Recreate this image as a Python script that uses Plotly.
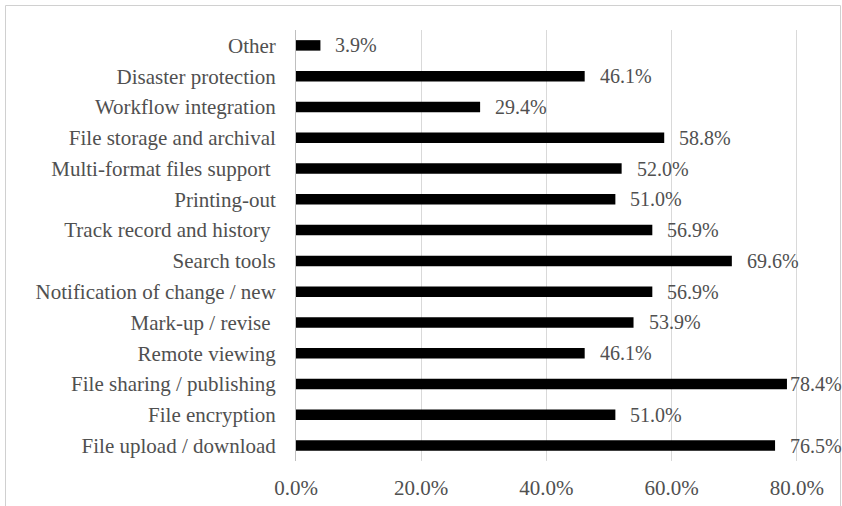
import plotly.graph_objects as go

categories = [
    "File upload / download",
    "File encryption",
    "File sharing / publishing",
    "Remote viewing",
    "Mark-up / revise ",
    "Notification of change / new",
    "Search tools",
    "Track record and history ",
    "Printing-out",
    "Multi-format files support ",
    "File storage and archival",
    "Workflow integration",
    "Disaster protection",
    "Other",
]
values = [0.765, 0.510, 0.784, 0.461, 0.539, 0.569, 0.696, 0.569, 0.510, 0.520, 0.588, 0.294, 0.461, 0.039]
tick_vals = [0.0, 0.2, 0.4, 0.6, 0.8]
tick_text = ["0.0%", "20.0%", "40.0%", "60.0%", "80.0%"]

W, H = 842, 506
ML, MR, MT, MB = 296, 2, 30, 45
plot_w = W - ML - MR
x_max = 0.8687
FONT = "Liberation Serif, Times New Roman, serif"
TXT = "#505050"
FS = 21
FS_LAB = 20

fig = go.Figure()
fig.add_trace(go.Bar(
    y=categories, x=values, orientation="h",
    marker=dict(color="#000000", line=dict(width=0)),
    hoverinfo="skip",
))

# data labels outside the bar end, kept inside the chart area
label_w = 54
for c, v in zip(categories, values):
    px_end = v / x_max * plot_w
    shift = 13
    if ML + px_end + shift + label_w > W:
        shift = max(0, W - label_w - (ML + px_end))
    fig.add_annotation(
        x=v, y=c, xref="x", yref="y", text=f"{v*100:.1f}%",
        showarrow=False, xanchor="left", yanchor="middle", xshift=shift,
        font=dict(family=FONT, size=FS_LAB, color=TXT),
    )

# outer chart border
def px2paper_x(px):
    return (px - ML) / plot_w
def px2paper_y(py):
    return (H - MB - py) / (H - MT - MB)

fig.add_shape(type="rect", xref="paper", yref="paper",
              x0=px2paper_x(5.5), x1=px2paper_x(840.5),
              y0=px2paper_y(510), y1=px2paper_y(5.5),
              line=dict(color="#d0d0d0", width=1), fillcolor="rgba(0,0,0,0)",
              layer="below")

fig.update_layout(
    width=W, height=H,
    margin=dict(l=ML, r=MR, t=MT, b=MB, pad=0),
    paper_bgcolor="white", plot_bgcolor="white",
    bargap=0.66, showlegend=False,
    font=dict(family=FONT, size=FS, color=TXT),
    xaxis=dict(
        range=[0, x_max], tickvals=tick_vals, ticktext=tick_text,
        showgrid=True, gridcolor="#d9d9d9", gridwidth=1,
        zeroline=False, showline=False, ticks="",
        ticklabelstandoff=12,
        tickfont=dict(family=FONT, size=FS, color=TXT),
    ),
    yaxis=dict(
        categoryorder="array", categoryarray=categories,
        showgrid=False, zeroline=False,
        showline=True, linecolor="#bfbfbf", linewidth=1,
        ticks="", ticklabelstandoff=15,
        tickfont=dict(family=FONT, size=FS, color=TXT),
    ),
)

fig.write_html("out.html")
